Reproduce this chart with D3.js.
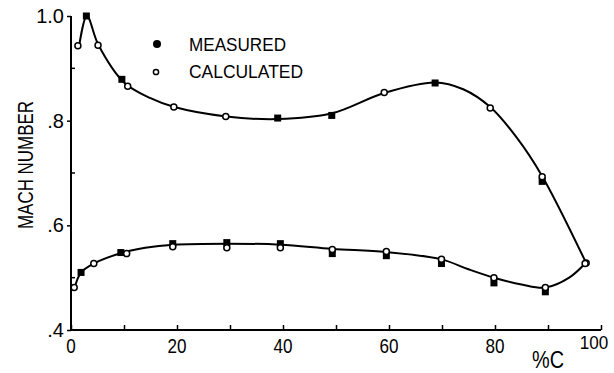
<!DOCTYPE html>
<html>
<head>
<meta charset="utf-8">
<script src="https://cdn.jsdelivr.net/npm/d3@7"></script>
<style>
	body { margin: 0; background: #fff; }
	svg { display: block; }
	text { font-family: "Liberation Sans", Arial, sans-serif; fill: #000; }
</style>
</head>
<body>
<div id="chart"></div>
<script>
	// values: x = %C, y = Mach number
	var upperCurveX = [1.5, 3.0, 5.2, 10, 15, 19.5, 29.3, 39, 49.2, 59.1, 68.7, 74, 79.1, 84, 88.9, 97.2];
	var upperCurveY = [0.94, 1.0, 0.944, 0.873, 0.843, 0.826, 0.808, 0.803, 0.814, 0.853, 0.873, 0.86, 0.826, 0.769, 0.694, 0.528];
	var lowerCurveX = [0.7, 1.9, 4.3, 9.5, 14, 19.3, 29.4, 39.5, 49.3, 59.5, 69.9, 75, 79.8, 85, 89.5, 94, 97];
	var lowerCurveY = [0.481, 0.51, 0.527, 0.547, 0.557, 0.563, 0.565, 0.563, 0.555, 0.549, 0.535, 0.516, 0.5, 0.487, 0.481, 0.5, 0.527];

	var measuredX = [2.9, 9.6, 39, 49.2, 68.7, 88.9, 1.9, 9.4, 19.2, 29.4, 39.5, 49.3, 59.5, 69.9, 79.8, 89.5];
	var measuredY = [1.0, 0.879, 0.805, 0.81, 0.872, 0.684, 0.51, 0.548, 0.565, 0.567, 0.565, 0.546, 0.542, 0.527, 0.49, 0.473];
	var calculatedX = [1.3, 5.1, 10.7, 19.4, 29.2, 59.1, 79.1, 88.9, 97.2, 0.6, 4.3, 10.5, 19.2, 29.4, 39.5, 49.3, 59.5, 69.9, 79.8, 89.5, 97];
	var calculatedY = [0.943, 0.944, 0.866, 0.826, 0.808, 0.854, 0.824, 0.693, 0.528, 0.481, 0.527, 0.546, 0.559, 0.557, 0.557, 0.554, 0.55, 0.535, 0.5, 0.481, 0.527];

	var xTicks = [0, 20, 40, 60, 80, 100];
	var xMinorTicks = [10, 30, 50, 70, 90];
	var yTicks = [0.4, 0.6, 0.8, 1.0];
	var yTickLabels = [".4", ".6", ".8", "1.0"];
	var yMinorTicks = [0.5, 0.7, 0.9];

	var W = 614, H = 373;
	var svg = d3.select("#chart").append("svg")
		.attr("width", W)
		.attr("height", H);

	var x = d3.scaleLinear().domain([0, 100]).range([71, 601]);
	var y = d3.scaleLinear().domain([0.4, 1.0]).range([330, 16]);

	// axes: ticks point inward on x, outward on y like the drawing
	var xAxis = d3.axisBottom(x).tickValues(xTicks.concat(xMinorTicks)).tickSize(-5).tickFormat("");
	svg.append("g")
		.attr("transform", "translate(0," + y(0.4) + ")")
		.call(xAxis)
		.call(function(g) {
			g.select(".domain").attr("stroke-width", 2).attr("d", "M" + x(0) + ",0H" + x(100));
			g.selectAll(".tick line").attr("stroke-width", 1.5);
		});

	var yAxis = d3.axisLeft(y).tickValues(yTicks).tickSize(4).tickFormat("");
	svg.append("g")
		.attr("transform", "translate(" + x(0) + ",0)")
		.call(yAxis)
		.call(function(g) {
			g.select(".domain").attr("stroke-width", 2).attr("d", "M0," + y(1.0) + "V" + y(0.4));
			g.selectAll(".tick line").attr("stroke-width", 1.5);
		});
	svg.append("g")
		.selectAll("line")
		.data(yMinorTicks)
		.enter().append("line")
		.attr("x1", x(0)).attr("x2", x(0) + 4)
		.attr("y1", function(d) { return y(d); })
		.attr("y2", function(d) { return y(d); })
		.attr("stroke", "#000").attr("stroke-width", 1.5);

	// tick labels (narrow lettering, ~10px per digit)
	svg.append("g")
		.selectAll("text")
		.data(xTicks)
		.enter().append("text")
		.attr("x", function(d) { return d == 100 ? 594 : x(d); })
		.attr("y", function(d) { return d == 100 ? 349 : 353; })
		.attr("text-anchor", "middle")
		.attr("textLength", function(d) { return String(d).length * 9.5; })
		.attr("lengthAdjust", "spacingAndGlyphs")
		.style("font-size", function(d) { return d == 100 ? "18px" : "21px"; })
		.text(function(d) { return d; });

	svg.append("g")
		.selectAll("text")
		.data(yTicks)
		.enter().append("text")
		.attr("x", 64)
		.attr("y", function(d) { return y(d) + 7; })
		.attr("text-anchor", "end")
		.style("font-size", "20px")
		.text(function(d, i) { return yTickLabels[i]; });

	svg.append("text")
		.attr("x", 548)
		.attr("y", 368)
		.attr("text-anchor", "middle")
		.attr("textLength", 32)
		.attr("lengthAdjust", "spacingAndGlyphs")
		.style("font-size", "23px")
		.text("%C");

	svg.append("text")
		.attr("transform", "translate(33,165) rotate(-90)")
		.attr("text-anchor", "middle")
		.attr("textLength", 128)
		.attr("lengthAdjust", "spacingAndGlyphs")
		.style("font-size", "22px")
		.text("MACH NUMBER");

	// curves
	var line = d3.line()
		.x(function(d) { return x(d[0]); })
		.y(function(d) { return y(d[1]); })
		.curve(d3.curveCatmullRom.alpha(0.5));

	[[upperCurveX, upperCurveY], [lowerCurveX, lowerCurveY]].forEach(function(c) {
		svg.append("path")
			.datum(d3.zip(c[0], c[1]))
			.attr("fill", "none")
			.attr("stroke", "#000")
			.attr("stroke-width", 2)
			.attr("d", line);
	});

	// measured: filled squares
	var sq = 7;
	svg.append("g")
		.selectAll("rect")
		.data(d3.zip(measuredX, measuredY))
		.enter().append("rect")
		.attr("x", function(d) { return x(d[0]) - sq / 2; })
		.attr("y", function(d) { return y(d[1]) - sq / 2; })
		.attr("width", sq)
		.attr("height", sq)
		.attr("fill", "#000");

	// calculated: open circles
	svg.append("g")
		.selectAll("circle")
		.data(d3.zip(calculatedX, calculatedY))
		.enter().append("circle")
		.attr("cx", function(d) { return x(d[0]); })
		.attr("cy", function(d) { return y(d[1]); })
		.attr("r", 3)
		.attr("fill", "#fff")
		.attr("stroke", "#000")
		.attr("stroke-width", 1.5);

	// legend
	svg.append("circle").attr("cx", 157).attr("cy", 44).attr("r", 4).attr("fill", "#000");
	svg.append("circle").attr("cx", 156).attr("cy", 72).attr("r", 2.6)
		.attr("fill", "#fff").attr("stroke", "#000").attr("stroke-width", 1.5);
	svg.append("text").attr("x", 189).attr("y", 51)
		.attr("textLength", 97).attr("lengthAdjust", "spacingAndGlyphs")
		.style("font-size", "19px").text("MEASURED");
	svg.append("text").attr("x", 189).attr("y", 78)
		.attr("textLength", 114).attr("lengthAdjust", "spacingAndGlyphs")
		.style("font-size", "19px").text("CALCULATED");
</script>
</body>
</html>
